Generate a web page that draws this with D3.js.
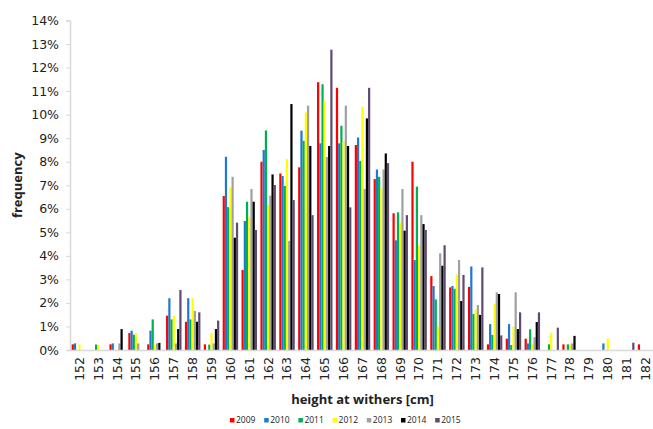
<!DOCTYPE html>
<html>
<head>
<meta charset="utf-8">
<script src="https://cdn.jsdelivr.net/npm/d3@7"></script>
<style>
  body { margin: 0; background: #fff; }
  text { font-family: "Open Sans", "DejaVu Sans", sans-serif; fill: #222; }
</style>
</head>
<body>
<script>
var width = 653,
  height = 429,
  marginLeft = 70,
  plotRight = 655,
  plotTop = 20.5,
  plotBottom = 350;

// heights at withers, cm
var heights = d3.range(152, 183).map(String);
var years = ["2009", "2010", "2011", "2012", "2013", "2014", "2015"];
var colors = ["#ff0000", "#1f78d1", "#00b050", "#ffff00", "#a0a0a0", "#000000", "#5f4b70"];

// frequency in %
var y2009 = [0.24, 0, 0.24, 0.72, 0.24, 1.46, 1.2, 0.24, 6.54, 3.4, 8.0, 7.5, 7.76, 11.38, 11.14, 8.71, 7.26, 5.81, 8.0, 3.14, 2.66, 2.68, 0.24, 0.48, 0.48, 0, 0.24, 0, 0, 0, 0.24];
var y2010 = [0.28, 0, 0.28, 0.82, 0.82, 2.2, 2.2, 0, 8.21, 5.48, 8.5, 7.39, 9.32, 8.78, 8.78, 9.03, 7.67, 4.66, 3.82, 2.72, 2.72, 3.55, 1.1, 1.1, 0.28, 0, 0, 0, 0.28, 0, 0];
var y2011 = [0, 0.23, 0, 0.65, 1.3, 1.3, 1.3, 0.23, 6.07, 6.3, 9.33, 6.97, 8.89, 11.29, 9.53, 8.03, 7.36, 5.85, 6.94, 2.15, 2.6, 1.53, 0.64, 0.21, 0.88, 0.24, 0.24, 0, 0, 0, 0];
var y2012 = [0.24, 0.23, 0, 0.72, 0.24, 1.46, 2.2, 0.72, 6.9, 5.66, 6.16, 8.11, 10.09, 10.59, 8.88, 10.34, 6.88, 5.42, 4.43, 0.99, 3.2, 1.73, 1.97, 0.99, 0.24, 0.74, 0.24, 0, 0.48, 0, 0];
var y2013 = [0, 0, 0.28, 0.28, 0.28, 0.28, 1.66, 0.28, 7.36, 6.84, 6.56, 4.63, 10.38, 8.2, 10.38, 6.84, 7.67, 6.84, 5.73, 4.11, 3.82, 1.91, 2.45, 2.45, 0.54, 0, 0.28, 0, 0, 0, 0];
var y2014 = [0, 0, 0.89, 0, 0.3, 0.89, 1.2, 0.89, 4.77, 6.3, 7.46, 10.45, 8.67, 8.67, 8.67, 9.84, 8.35, 5.07, 5.35, 3.58, 2.08, 1.49, 2.38, 0.89, 1.19, 0, 0.6, 0, 0, 0, 0];
var y2015 = [0, 0, 0, 0, 0, 2.55, 1.6, 1.25, 5.41, 5.1, 7.01, 6.37, 5.73, 12.76, 6.06, 11.14, 7.94, 5.73, 5.1, 4.45, 3.19, 3.51, 0.62, 1.6, 1.6, 0.95, 0, 0, 0, 0.31, 0];

var series = [y2009, y2010, y2011, y2012, y2013, y2014, y2015];
var yTicks = d3.range(0, 15);

var svg = d3
  .select("body")
  .append("svg")
  .attr("width", width)
  .attr("height", height);

var x0 = d3
  .scaleBand()
  .domain(heights)
  .range([marginLeft, plotRight])
  .paddingInner(0.18)
  .paddingOuter(0.09);

var x1 = d3.scaleBand().domain(years).range([0, x0.bandwidth()]);

var y = d3.scaleLinear().domain([0, 14]).range([plotBottom, plotTop]);

var color = d3.scaleOrdinal().domain(years).range(colors);

// y axis
var yAxis = d3
  .axisLeft(y)
  .tickValues(yTicks)
  .tickSize(4)
  .tickPadding(7)
  .tickFormat((d) => d + "%");

var gy = svg
  .append("g")
  .attr("transform", `translate(${marginLeft},0)`)
  .call(yAxis);
gy.select(".domain").attr("stroke", "#d9d9d9").attr("stroke-width", 1.5);
gy.selectAll(".tick line").attr("stroke", "#d9d9d9");
gy.selectAll(".tick text")
  .style("font-size", "12.5px")
  .style("font-family", '"DejaVu Sans", sans-serif')
  .attr("fill", "#222");

// bars
var groups = svg
  .selectAll("g.group")
  .data(heights)
  .enter()
  .append("g")
  .attr("class", "group")
  .attr("transform", (d) => `translate(${x0(d)},0)`);

groups
  .selectAll("rect")
  .data((d, i) => years.map((yr, j) => ({ year: yr, value: series[j][i] })))
  .enter()
  .append("rect")
  .attr("x", (d) => x1(d.year))
  .attr("width", x1.bandwidth())
  .attr("y", (d) => y(d.value))
  .attr("height", (d) => plotBottom - y(d.value))
  .attr("fill", (d) => color(d.year));

// x axis
var xAxis = d3.axisBottom(x0).tickSize(0).tickPadding(0);
var gx = svg
  .append("g")
  .attr("transform", `translate(0,${plotBottom})`)
  .call(xAxis);
gx.select(".domain").attr("stroke", "#d9d9d9").attr("stroke-width", 1.5);
gx.selectAll(".tick text")
  .attr("transform", "rotate(-90)")
  .attr("text-anchor", "end")
  .attr("x", -7)
  .attr("y", 0)
  .attr("dy", "0.35em")
  .style("font-size", "12.5px")
  .style("font-family", '"DejaVu Sans", sans-serif')
  .attr("fill", "#222");

// axis titles
svg
  .append("text")
  .attr("x", (marginLeft + plotRight) / 2)
  .attr("y", 404)
  .attr("text-anchor", "middle")
  .style("font-size", "13px")
  .style("font-weight", "bold")
  .text("height at withers [cm]");

svg
  .append("text")
  .attr("transform", `translate(22,${(plotTop + plotBottom) / 2}) rotate(-90)`)
  .attr("text-anchor", "middle")
  .style("font-size", "13px")
  .style("font-weight", "bold")
  .text("frequency");

// legend
var legend = svg
  .append("g")
  .attr("transform", "translate(230,422)");

var item = legend
  .selectAll("g")
  .data(years)
  .enter()
  .append("g")
  .attr("transform", (d, i) => `translate(${i * 34.2},0)`);

item
  .append("rect")
  .attr("x", 0)
  .attr("y", -4)
  .attr("width", 4.5)
  .attr("height", 4.5)
  .attr("fill", (d) => color(d));

item
  .append("text")
  .attr("x", 6)
  .attr("y", 0)
  .attr("dy", "0.12em")
  .style("font-size", "8.5px")
  .text((d) => d);
</script>
</body>
</html>
